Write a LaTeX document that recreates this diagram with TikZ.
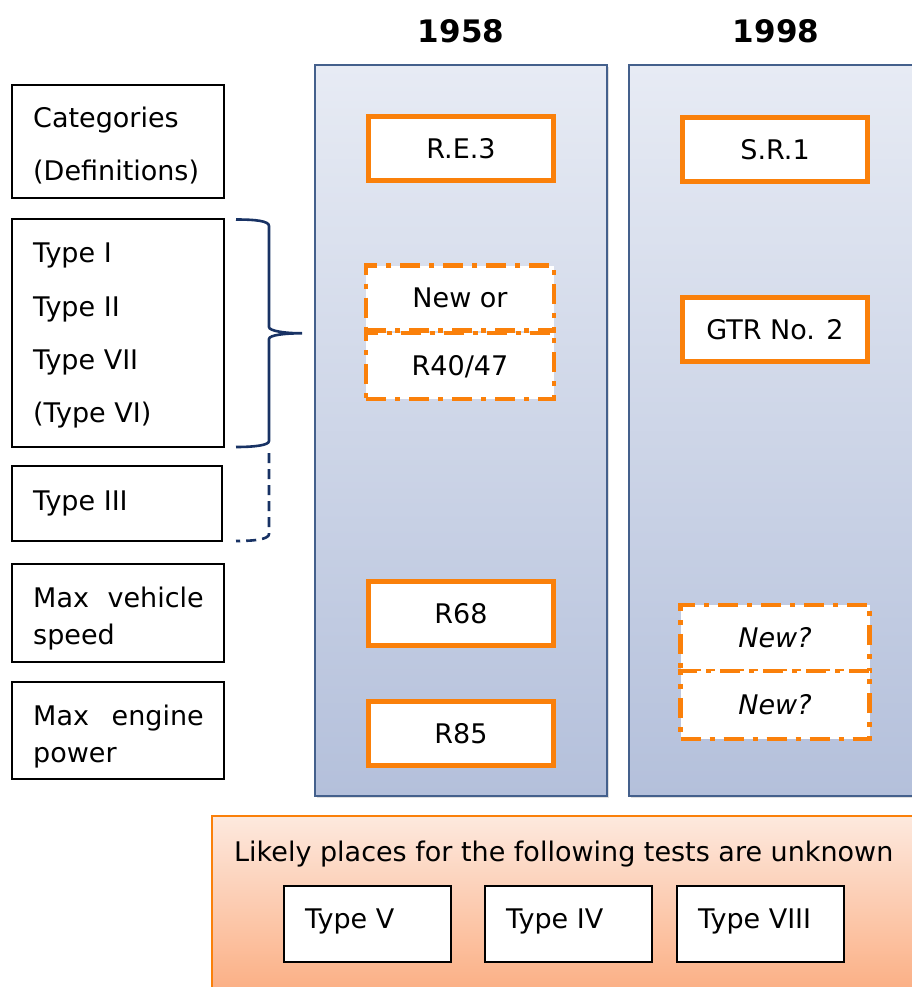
\documentclass[tikz,border=0pt]{standalone}
\usepackage{fontspec}
\setmainfont{DejaVu Sans}
\usetikzlibrary{shadows}
\definecolor{orng}{RGB}{250,128,10}
\definecolor{panelborder}{RGB}{68,96,140}
\definecolor{paneltop}{RGB}{231,235,244}
\definecolor{panelbot}{RGB}{180,192,219}
\definecolor{peachtop}{RGB}{253,233,222}
\definecolor{peachbot}{RGB}{251,172,128}
\definecolor{bracecol}{RGB}{24,50,100}
\begin{document}
\begin{tikzpicture}[x=1pt,y=-1pt,
  txt/.style={font=\fontsize{27}{32}\selectfont, inner sep=0pt, anchor=base west},
  title/.style={font=\bfseries\fontsize{31}{36}\selectfont, inner sep=0pt, anchor=base},
  panel/.style={draw=panelborder, line width=1.6pt, top color=paneltop, bottom color=panelbot,
     drop shadow={opacity=0.25, shadow xshift=2pt, shadow yshift=-2pt}},
  obox/.style={draw=orng, line width=5pt, fill=white, minimum width=185pt, minimum height=64pt,
     inner sep=0pt, text height=19.7pt, text depth=0pt, font=\fontsize{27}{32}\selectfont},
  dbox/.style={obox, line width=4.5pt, dash pattern=on 20pt off 9pt on 5pt off 9pt},
  lbox/.style={draw=black, line width=1.4pt, fill=white, inner sep=0pt},
  gbox/.style={draw=black, line width=1.4pt, fill=white, inner sep=0pt, minimum width=167pt, minimum height=76pt},
  bracestyle/.style={draw=bracecol, line width=2.6pt}
]
\useasboundingbox (0,0) rectangle (911,987);

% titles
\node[title] (t1958) at (461,43) {1958};
\node[title] (t1998) at (776,43) {1998};

% panels
\path[panel] (315,65) rectangle (607,796);
\path[panel] (629,65) rectangle (935,796);

% 1958 column
\node[obox] (re3) at (461,149) {R.E.3};
\node[dbox, minimum width=188pt, minimum height=65pt] (newor) at (460,298) {New or};
\node[dbox, minimum width=188pt, minimum height=66pt] (r4047) at (460,366) {R40/47};
\node[obox] (r68) at (461,613.5) {R68};
\node[obox] (r85) at (461,733.5) {R85};

% 1998 column
\node[obox] (sr1) at (775,149.5) {S.R.1};
\node[obox] (gtr) at (775,329.5) {GTR No. 2};
\node[dbox, minimum width=189pt, minimum height=66pt] (new1) at (775,638) {\itshape New?};
\node[dbox, minimum width=189pt, minimum height=68pt] (new2) at (775,705) {\itshape New?};

% left boxes
\node[lbox, minimum width=212pt, minimum height=113pt] (cat) at (118,141.5) {};
\node[txt] (catA) at (33,128) {Categories};
\node[txt] (catB) at (33,181) {(Definitions)};

\node[lbox, minimum width=212pt, minimum height=228pt] (types) at (118,333) {};
\node[txt] (ty1) at (33,262) {Type I};
\node[txt] (ty2) at (33,316) {Type II};
\node[txt] (ty7) at (33,369) {Type VII};
\node[txt] (ty6) at (33,422) {(Type VI)};

\node[lbox, minimum width=210pt, minimum height=75pt] (t3box) at (117,503.5) {};
\node[txt] (ty3) at (33,510) {Type III};

\node[lbox, minimum width=212pt, minimum height=98pt] (mvs) at (118,613) {};
\node[txt] (mvsA) at (33,607) {Max};
\node[txt, anchor=base east] (mvsB) at (204,607) {vehicle};
\node[txt] (mvsC) at (33,644) {speed};

\node[lbox, minimum width=212pt, minimum height=97pt] (mep) at (118,730.5) {};
\node[txt] (mepA) at (33,725) {Max};
\node[txt, anchor=base east] (mepB) at (204,725) {engine};
\node[txt] (mepC) at (33,762) {power};

% brace
\draw[bracestyle] (236,219.5) .. controls (256,219.5) and (269,221) .. (269,226)
  -- (269,327) .. controls (269,331) and (285,333.3) .. (302,333.3)
  .. controls (285,333.3) and (269,335) .. (269,339)
  -- (269,441) .. controls (269,445) and (256,447) .. (236,447);
\draw[bracestyle, dash pattern=on 10pt off 6pt] (269,453) -- (269,534)
  .. controls (269,539) and (256,541) .. (236,541);

% bottom panel
\path[draw=orng, line width=2pt, top color=peachtop, bottom color=peachbot] (212,816) rectangle (935,1000);
\node[txt] (likely) at (234,861) {Likely places for the following tests are unknown};
\node[gbox] (b5) at (367.5,924) {};
\node[txt] (t5) at (305,928) {Type V};
\node[gbox] (b4) at (568.5,924) {};
\node[txt] (t4) at (506,928) {Type IV};
\node[gbox] (b8) at (760.5,924) {};
\node[txt] (t8) at (698,928) {Type VIII};
\end{tikzpicture}
\end{document}
